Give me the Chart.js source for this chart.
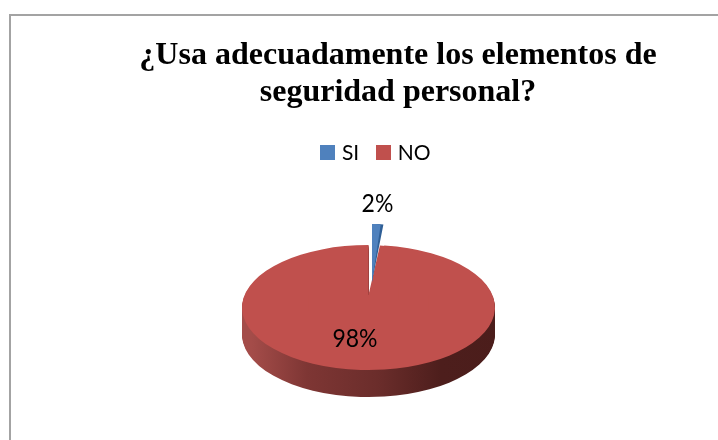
<!DOCTYPE html>
<html>
<head>
<meta charset="utf-8">
<title>Seguridad personal</title>
<script src="https://cdn.jsdelivr.net/npm/chart.js@4"></script>
<style>
    html, body { margin: 0; padding: 0; background: #fff; overflow: hidden; width: 718px; height: 440px; }
    #frame { position: absolute; left: 9px; top: 14px; width: 800px; height: 500px; border: 2px solid #a3a3a3; }
    #wrap { position: absolute; left: 0; top: 0; width: 718px; height: 440px; }
</style>
</head>
<body>
<div id="frame"></div>
<div id="wrap"><canvas id="pie-chart" width="718" height="440"></canvas></div>
<script>
const categories = ['SI', 'NO'];
const percents = [2, 98];
const sliceColors = ['#4f81bd', '#c0504d'];
const titleLines = ['¿Usa adecuadamente los elementos de', 'seguridad personal?'];

// where the flattened pie goes on the page
const pieX = 368.5, pieY = 307.5, pieR = 126.5, pieRy = 62.5, pieDepth = 27;

function drawSlice(ctx, el, color, x, y, sx, sy) {
    const saved = el.options;
    el.options = Object.assign({}, saved, { backgroundColor: color, borderWidth: 0 });
    ctx.save();
    ctx.translate(x, y);
    ctx.scale(sx, sy);
    ctx.translate(-el.x, -el.y);
    el.draw(ctx);
    ctx.restore();
    el.options = saved;
}

function drawLabel(ctx, text, x, y) {
    ctx.save();
    ctx.translate(x, y);
    ctx.scale(0.92, 1);
    ctx.fillStyle = '#000';
    ctx.font = '25px Lato';
    ctx.textAlign = 'center';
    ctx.textBaseline = 'middle';
    ctx.fillText(text, 0, 0);
    ctx.restore();
}

// legend square as an image so the text can sit closer to it
function legendSquare(color) {
    const c = document.createElement('canvas');
    c.width = 15;
    c.height = 15;
    const g = c.getContext('2d');
    g.fillStyle = color;
    g.fillRect(0, 0, 15, 15);
    return c;
}

const flatPie = {
    id: 'flatPie',
    beforeDatasetDraw(chart, args) {
        const ctx = chart.ctx;
        const [blue, red] = args.meta.data;
        const k = pieRy / pieR;
        const redColor = red.options.backgroundColor;

        // side wall of the big slice
        const wall = ctx.createLinearGradient(pieX - pieR, 0, pieX + pieR, 0);
        wall.addColorStop(0, '#a44c49');
        wall.addColorStop(0.22, '#7e3634');
        wall.addColorStop(0.5, '#6b2d2b');
        wall.addColorStop(0.75, '#4d1e1c');
        wall.addColorStop(1, '#4b1d1b');
        for (let d = pieDepth; d > 0; d--) {
            drawSlice(ctx, red, wall, pieX, pieY + d, 1, k);
        }
        drawSlice(ctx, red, redColor, pieX, pieY, 1, k);

        // the notch really ends higher up than the middle of the ellipse
        ctx.save();
        ctx.beginPath();
        ctx.rect(pieX - 60, 295, 120, 16);
        ctx.clip();
        drawSlice(ctx, red, redColor, pieX, pieY - 12, 1, k);
        ctx.restore();

        // and its right edge is steeper
        ctx.save();
        ctx.beginPath();
        ctx.rect(pieX, 240, 30, 60);
        ctx.clip();
        drawSlice(ctx, red, redColor, pieX, 295, 0.72, 50 / pieR);
        ctx.restore();

        // pulled out slice, dark wall then lighter top
        const bk = 58 / pieR;
        drawSlice(ctx, blue, '#2f5f96', 372, 282, 0.72, bk);
        drawSlice(ctx, blue, blue.options.backgroundColor, 372, 282, 0.55, bk);

        drawLabel(ctx, percents[0] + '%', 377.5, 204);
        drawLabel(ctx, percents[1] + '%', 355, 339);
        return false;
    },
    afterLayout(chart) {
        // title and legend are not centred on the canvas in the original
        chart.titleBlock.left += 39;
        chart.titleBlock.right += 39;
        chart.legend.left += 18;
        chart.legend.right += 18;
    }
};

new Chart(document.getElementById('pie-chart'), {
    type: 'pie',
    data: {
        labels: categories,
        datasets: [{
            data: percents,
            backgroundColor: sliceColors,
            borderWidth: 0
        }]
    },
    options: {
        responsive: false,
        animation: false,
        radius: pieR,
        layout: { padding: { top: 37 } },
        plugins: {
            title: {
                display: true,
                text: titleLines,
                color: '#000',
                font: { family: 'Liberation Serif', size: 32, weight: 'bold', lineHeight: 1.16 },
                padding: { top: 0, bottom: 11 }
            },
            legend: {
                position: 'top',
                labels: {
                    usePointStyle: true,
                    pointStyleWidth: 8,
                    color: '#000',
                    padding: 20,
                    font: { family: 'Lato', size: 21 },
                    generateLabels(chart) {
                        const items = Chart.overrides.pie.plugins.legend.labels.generateLabels(chart);
                        items.forEach((item, i) => { item.pointStyle = legendSquare(sliceColors[i]); });
                        return items;
                    }
                }
            },
            tooltip: { enabled: false }
        }
    },
    plugins: [flatPie]
});
</script>
</body>
</html>
